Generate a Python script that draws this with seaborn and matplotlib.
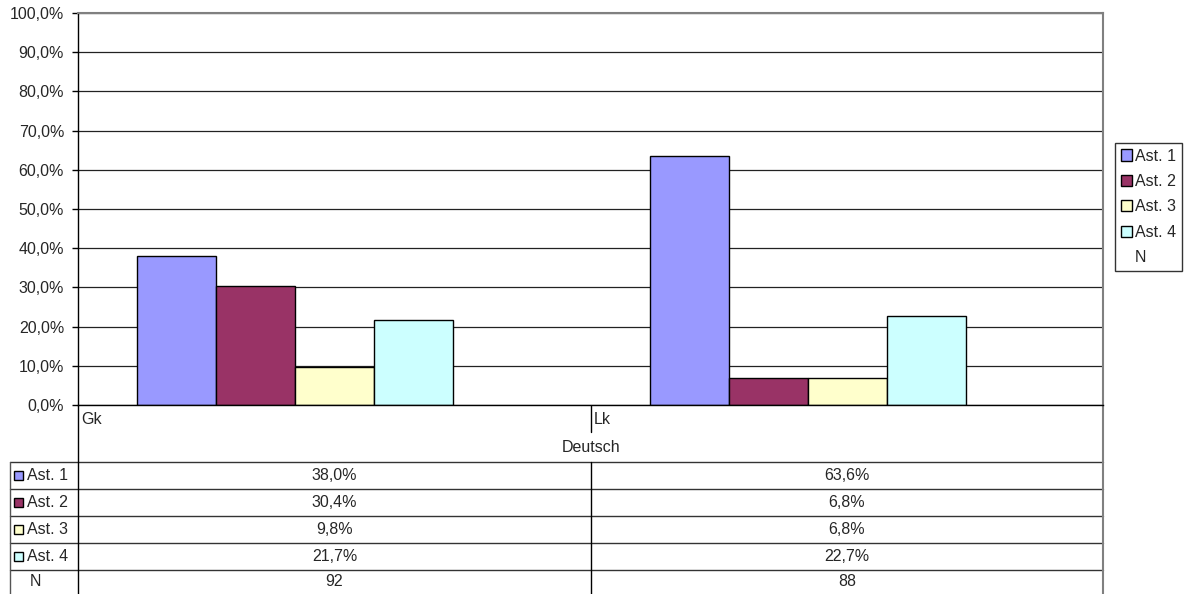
import numpy as np
import pandas as pd
import matplotlib
matplotlib.use("Agg")
import matplotlib.pyplot as plt
import seaborn as sns
from matplotlib.patches import Patch, Rectangle

# data
categories = ["Gk", "Lk"]
group_label = "Deutsch"
series = ["Ast. 1", "Ast. 2", "Ast. 3", "Ast. 4"]
ast1 = [38.0, 63.6]
ast2 = [30.4, 6.8]
ast3 = [9.8, 6.8]
ast4 = [21.7, 22.7]
n_values = [92, 88]
colors = ["#9999FF", "#993366", "#FFFFCC", "#CCFFFF"]

df = pd.DataFrame({
    "cat": categories * 4,
    "serie": [s for s in series for _ in categories],
    "val": ast1 + ast2 + ast3 + ast4,
})

sns.set_style("white")
plt.rcParams["font.family"] = ["Liberation Sans", "DejaVu Sans"]
fs = 11.5

W, H = 1186, 594
fig = plt.figure(figsize=(W / 100, H / 100), dpi=100)

# plot area in pixels
px_l, px_r, px_t, px_b = 78, 1103, 13, 405
ax = fig.add_axes([px_l / W, 1 - px_b / H, (px_r - px_l) / W, (px_b - px_t) / H])

sns.barplot(data=df, x="cat", y="val", hue="serie", order=categories,
            hue_order=series, palette=dict(zip(series, colors)), saturation=1,
            width=0.616, edgecolor="black", linewidth=1, legend=False, ax=ax)

shift = 0.076
ax.set_xlim(-0.5 + shift, 1.5 + shift)
ax.set_ylim(0, 100)
ax.set_yticks(np.arange(0, 101, 10))
ax.set_yticklabels([f"{v:.1f}%".replace(".", ",") for v in np.arange(0, 101, 10)], fontsize=fs)
ax.set_xticks([])
ax.set_xlabel("")
ax.set_ylabel("")
ax.yaxis.grid(True, color="#222222", linewidth=0.9)
ax.set_axisbelow(True)
ax.tick_params(axis="y", direction="out", length=4, width=1, color="black", pad=6, left=True)
for side in ["top", "right"]:
    ax.spines[side].set_color("#808080")
    ax.spines[side].set_linewidth(1.5)
ax.spines["left"].set_color("black")
ax.spines["bottom"].set_color("black")
ax.spines["left"].set_linewidth(1)
ax.spines["bottom"].set_linewidth(1)

# legend
handles = [Patch(facecolor=colors[i], edgecolor="black") for i in range(4)]
handles.append(Patch(facecolor="none", edgecolor="none"))
leg = fig.legend(handles, series + ["N"], loc="upper left",
                 bbox_to_anchor=(1115 / W, 1 - 143 / H), frameon=True,
                 fancybox=False, edgecolor="black", fontsize=fs,
                 handlelength=0.7, handleheight=0.7, handletextpad=0.2,
                 labelspacing=0.65, borderpad=0.35, borderaxespad=0)
leg.get_frame().set_linewidth(1)

# data table below the chart (pixel layout)
tab = fig.add_axes([0, 0, 1, 1], zorder=-1)
tab.set_xlim(0, W)
tab.set_ylim(H, 0)
tab.axis("off")

col_edges = [px_l, 591, px_r]
col_mid = [(col_edges[i] + col_edges[i + 1]) / 2 for i in range(2)]
row_tops = [462, 489, 516, 543, 570]
row_h = 27

# category labels and group label
tab.plot([591, 591], [px_b, 432], color="black", lw=1)
for i, c in enumerate(categories):
    tab.text(col_edges[i] + 3, 419, c, fontsize=fs, va="center", ha="left")
tab.text(591, 447, group_label, fontsize=fs, va="center", ha="center")

# grid lines of table
for y in row_tops:
    tab.plot([10, px_r], [y, y], color="#333333", lw=1)
tab.plot([px_l, px_l], [px_b, H], color="black", lw=1)
tab.plot([10, 10], [row_tops[0], H], color="#555555", lw=1)
tab.plot([591, 591], [row_tops[0], H], color="black", lw=1)
tab.plot([px_r, px_r], [px_b, H], color="#808080", lw=1.5)

rows = [ast1, ast2, ast3, ast4]
for r, name in enumerate(series):
    yc = row_tops[r] + row_h / 2
    tab.add_patch(Rectangle((14, yc - 4.5), 9, 9, facecolor=colors[r], edgecolor="black", lw=1))
    tab.text(27, yc, name, fontsize=fs, va="center", ha="left")
    for i in range(2):
        tab.text(col_mid[i], yc, f"{rows[r][i]:.1f}%".replace(".", ","),
                 fontsize=fs, va="center", ha="center")
yc = row_tops[4] + 12
tab.text(35, yc, "N", fontsize=fs, va="center", ha="center")
for i in range(2):
    tab.text(col_mid[i], yc, str(n_values[i]), fontsize=fs, va="center", ha="center")

fig.savefig("out.png", dpi=100)
